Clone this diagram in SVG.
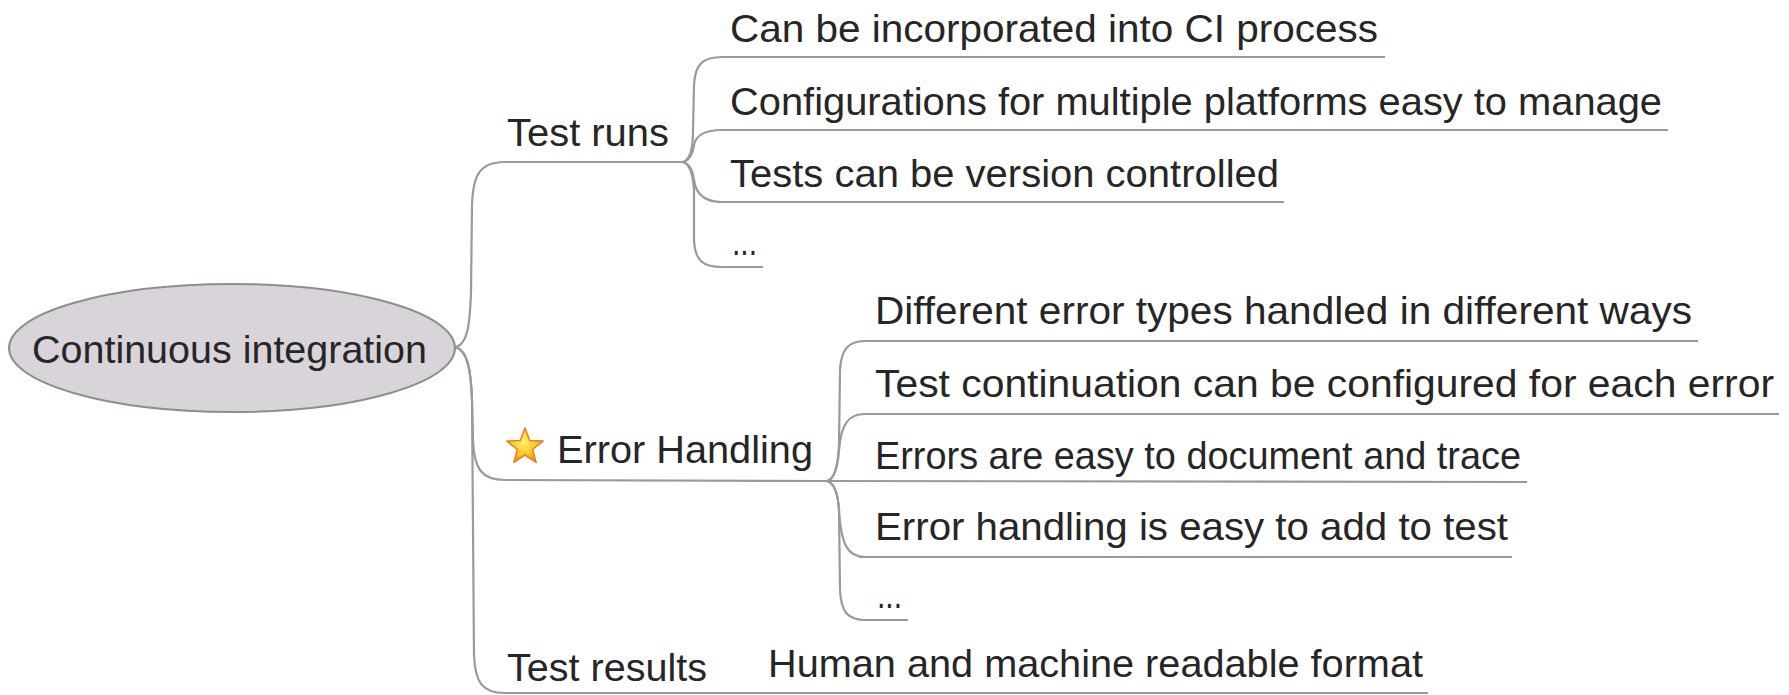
<svg xmlns="http://www.w3.org/2000/svg" width="1789" height="695" viewBox="0 0 1789 695">
<defs>
<style>
.t{font-family:"Liberation Sans",Arial,sans-serif;font-size:39px;fill:#262626}
.c{fill:none;stroke:#9a9a9a;stroke-width:2.2}
</style>
<radialGradient id="sg" cx="0.45" cy="0.4" r="0.6">
<stop offset="0" stop-color="#fff36a"/>
<stop offset="0.6" stop-color="#ffc62a"/>
<stop offset="1" stop-color="#f5901a"/>
</radialGradient>
</defs>
<rect width="1789" height="695" fill="#ffffff"/>
<g id="connectors">
<path class="c" d="M455,347 C468,345 470,322 471,292 L472,205 C473,176 479,162 505,162 L683,162"/>
<path class="c" d="M455,347 C468,350 471,372 472,400 L473,440 C474,468 481,480 505,480 L827,481"/>
<path class="c" d="M455,347 C468,350 471,372 472,400 L474,655 C475,682 482,693 505,693 L727,693"/>
<path class="c" d="M727,693 L1428,693"/>
<path class="c" d="M683,162 C690,160 693,150 693,130 L694,85 C695,65 702,57 722,57 L1385,57"/>
<path class="c" d="M683,162 C690,160 693,152 694,145 C696,135 705,130 722,130 L1668,130"/>
<path class="c" d="M683,162 C690,164 693,172 694,180 C696,195 705,202 722,202 L1284,202"/>
<path class="c" d="M683,162 C690,164 693,175 694,190 L694,240 C695,260 702,267 722,267 L763,267"/>
<path class="c" d="M827,481 C835,479 838,465 839,445 L840,370 C841,350 848,341 865,341 L1698,341"/>
<path class="c" d="M827,481 C835,479 838,465 839,450 C841,425 848,414 865,414 L1779,414"/>
<path class="c" d="M827,481 L1527,482"/>
<path class="c" d="M827,481 C835,483 838,495 839,510 C841,545 848,557 865,557 L1512,557"/>
<path class="c" d="M827,481 C835,483 838,495 839,510 L840,590 C841,612 848,620 865,620 L908,620"/>
</g>
<g id="root">
<ellipse cx="232" cy="348" rx="223" ry="64" fill="#d8d4d9" stroke="#8e8e8e" stroke-width="2"/>
<text class="t" x="32" y="363" textLength="395" lengthAdjust="spacingAndGlyphs">Continuous integration</text>
</g>
<g id="test-runs"><text class="t" x="507" y="146" textLength="162" lengthAdjust="spacingAndGlyphs">Test runs</text></g>
<g id="tr-1"><text class="t" x="730" y="42" textLength="648" lengthAdjust="spacingAndGlyphs">Can be incorporated into CI process</text></g>
<g id="tr-2"><text class="t" x="730" y="115" textLength="932" lengthAdjust="spacingAndGlyphs">Configurations for multiple platforms easy to manage</text></g>
<g id="tr-3"><text class="t" x="730" y="187" textLength="549" lengthAdjust="spacingAndGlyphs">Tests can be version controlled</text></g>
<g id="tr-4"><text class="t" x="732" y="255" textLength="25" lengthAdjust="spacingAndGlyphs">...</text></g>
<g id="error-handling">
<polygon points="525,428 529.7,440.5 543.1,441.1 532.6,449.5 536.2,462.4 525,455 513.8,462.4 517.4,449.5 506.9,441.1 520.3,440.5" fill="url(#sg)" stroke="#e8801a" stroke-width="1.5" stroke-linejoin="round"/>
<text class="t" x="557" y="463" textLength="256" lengthAdjust="spacingAndGlyphs">Error Handling</text>
</g>
<g id="eh-1"><text class="t" x="875" y="324" textLength="817" lengthAdjust="spacingAndGlyphs">Different error types handled in different ways</text></g>
<g id="eh-2"><text class="t" x="875" y="397" textLength="899" lengthAdjust="spacingAndGlyphs">Test continuation can be configured for each error</text></g>
<g id="eh-3"><text class="t" x="875" y="469" textLength="646" lengthAdjust="spacingAndGlyphs">Errors are easy to document and trace</text></g>
<g id="eh-4"><text class="t" x="875" y="540" textLength="633" lengthAdjust="spacingAndGlyphs">Error handling is easy to add to test</text></g>
<g id="eh-5"><text class="t" x="877" y="608" textLength="25" lengthAdjust="spacingAndGlyphs">...</text></g>
<g id="test-results"><text class="t" x="507" y="681" textLength="200" lengthAdjust="spacingAndGlyphs">Test results</text></g>
<g id="trs-1"><text class="t" x="768" y="677" textLength="655" lengthAdjust="spacingAndGlyphs">Human and machine readable format</text></g>
</svg>
